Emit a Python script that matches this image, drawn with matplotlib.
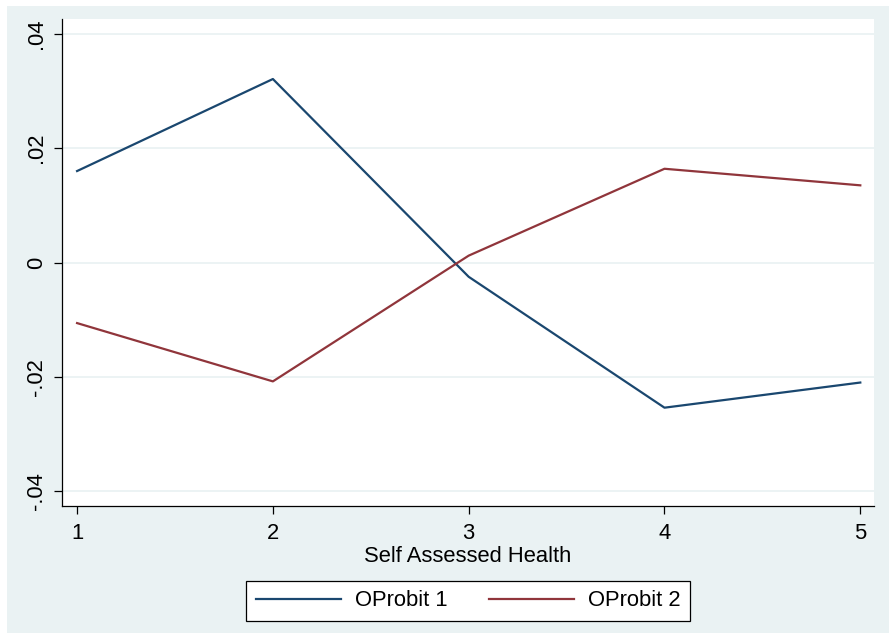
import matplotlib
matplotlib.use("Agg")
import matplotlib.pyplot as plt
from matplotlib.patches import Rectangle

# Marginal effects by self assessed health category
health_levels = [1, 2, 3, 4, 5]
oprobit_1 = [0.0160, 0.0321, -0.0025, -0.0254, -0.0210]
oprobit_2 = [-0.0106, -0.0208, 0.0012, 0.0164, 0.0135]
series_labels = ["OProbit 1", "OProbit 2"]

y_ticks = [-0.04, -0.02, 0.0, 0.02, 0.04]
y_tick_labels = ["-.04", "-.02", "0", ".02", ".04"]

NAVY = "#1a476f"
MAROON = "#90353b"
REGION = "#eaf2f3"

plt.rcParams["font.family"] = ["Liberation Sans", "DejaVu Sans"]

W, H = 889, 633
fig = plt.figure(figsize=(W / 100, H / 100), dpi=100, facecolor="white")

# graph region background, kept behind the axes
fig.add_artist(Rectangle((7 / W, 0), 1 - 7 / W, 1 - 6 / H,
                         transform=fig.transFigure, facecolor=REGION,
                         edgecolor="none", zorder=-10))

left, right, top, bottom = 62, 874, 19, 506
ax = fig.add_axes([left / W, 1 - bottom / H, (right - left) / W, (bottom - top) / H])
ax.set_facecolor("white")

ax.plot(health_levels, oprobit_1, color=NAVY, lw=1.6, label=series_labels[0])
ax.plot(health_levels, oprobit_2, color=MAROON, lw=1.6, label=series_labels[1])

ax.set_xlim(0.923, 5.07)
ax.set_ylim(-0.0426, 0.0426)
ax.set_xticks(health_levels)
ax.set_yticks(y_ticks)
ax.set_yticklabels(y_tick_labels, rotation=90, va="center")

ax.grid(True, axis="y", color=REGION, lw=1.3)
ax.set_axisbelow(True)

for side in ["top", "right"]:
    ax.spines[side].set_visible(False)
for side in ["left", "bottom"]:
    ax.spines[side].set_color("black")
    ax.spines[side].set_linewidth(0.9)

ax.tick_params(axis="both", colors="black", labelsize=15.8, width=0.9, length=6)
ax.tick_params(axis="x", pad=6)
ax.tick_params(axis="y", pad=5)

ax.set_xlabel("Self Assessed Health", fontsize=15.8, labelpad=2)

leg = fig.legend(loc="center", bbox_to_anchor=(468 / W, 1 - 601 / H), ncol=2,
                 fontsize=15.8, frameon=True, fancybox=False, framealpha=1,
                 handlelength=3.9, handletextpad=0.6, columnspacing=1.9,
                 borderpad=0.45, borderaxespad=0)
leg.get_frame().set_edgecolor("black")
leg.get_frame().set_linewidth(0.9)
leg.get_frame().set_facecolor("white")

fig.savefig("out.png", dpi=100, facecolor=fig.get_facecolor())
